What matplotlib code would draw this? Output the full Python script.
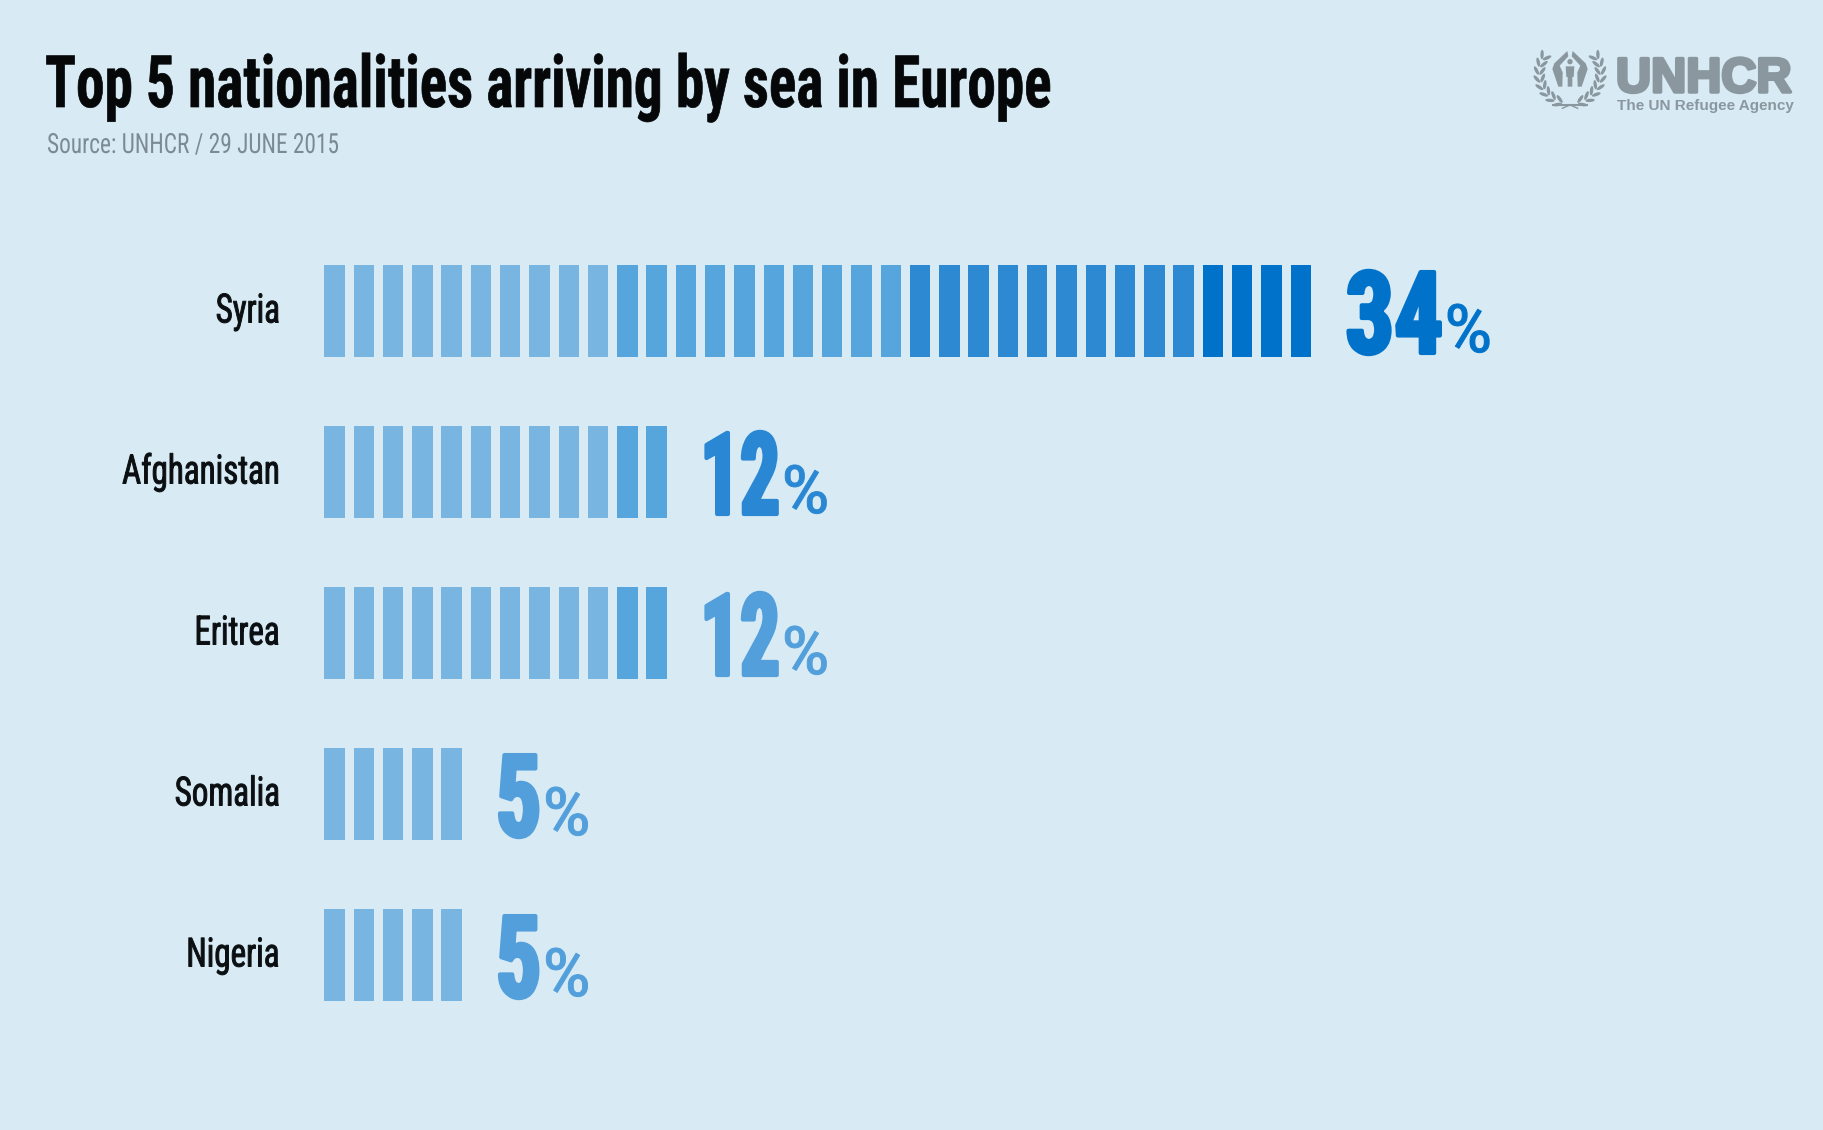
import numpy as np
import matplotlib
matplotlib.use('Agg')
import matplotlib.pyplot as plt
import matplotlib.patheffects as pe
from matplotlib.patches import Circle, Ellipse, Polygon
from matplotlib.transforms import Affine2D

countries = ['Syria', 'Afghanistan', 'Eritrea', 'Somalia', 'Nigeria']
shares = [34, 12, 12, 5, 5]
tier_colors = ['#79B5E1', '#56A5DC', '#2E89D3', '#0072CA']
label_colors = ['#0072CA', '#2A87D3', '#529FDB', '#529FDB', '#529FDB']
number_squeeze = [0.85, 0.69, 0.69, 0.79, 0.79]

title = 'Top 5 nationalities arriving by sea in Europe'
source = 'Source: UNHCR / 29 JUNE 2015'

BG = '#D8EBF4'
NARROW = ['Roboto Condensed', 'Roboto', 'DejaVu Sans']
HELV = ['Liberation Sans', 'DejaVu Sans']
GREY = '#8A979F'
W, H = 1824, 1130
PITCH = 29.28
BAR_LEFT = 324.3
ROW_STEP = 161.0
ROW_TOP = 311.0

px = 0.72  # pixels to points at dpi 100


class Squeeze(pe.AbstractPathEffect):
    # the installed fonts are wider than the original, so narrow the glyphs when drawn
    def __init__(self, sx, anchor='left', stroke=0):
        self.sx = sx
        self.anchor = anchor
        self.stroke = stroke

    def draw_path(self, renderer, gc, tpath, affine, rgbFace=None):
        a = tpath.get_extents().x1 if self.anchor == 'right' else 0
        t = Affine2D().translate(-a, 0).scale(self.sx, 1).translate(a, 0) + affine
        gc0 = renderer.new_gc()
        gc0.copy_properties(gc)
        if self.stroke:
            gc0.set_foreground(rgbFace)
            gc0.set_linewidth(self.stroke)
        renderer.draw_path(gc0, tpath, t, rgbFace)
        gc0.restore()


fig = plt.figure(figsize=(W / 100, H / 100), dpi=100, facecolor=BG)
ax = fig.add_axes([BAR_LEFT / W, 0, 1 - BAR_LEFT / W, 1])
ax.set_facecolor('none')
ax.set_xlim(0, (W - BAR_LEFT) / PITCH)
ax.set_ylim((H - ROW_TOP) / ROW_STEP, -ROW_TOP / ROW_STEP)
for s in ax.spines.values():
    s.set_visible(False)
ax.xaxis.set_visible(False)
renderer = fig.canvas.get_renderer()

# one bar per percentage point, colour changes every ten
for row, value in enumerate(shares):
    units = np.arange(value)
    colors = [tier_colors[u // 10] for u in units]
    ax.bar(units, 92 / ROW_STEP, width=0.697, bottom=row - 46 / ROW_STEP,
           align='edge', color=colors, linewidth=0)

    sx = number_squeeze[row]
    num = ax.annotate(str(value), xy=(value - 0.303, row), xytext=(35 * px, -42 * px),
                      textcoords='offset points', ha='left', va='baseline',
                      fontsize=82, fontweight='bold', family=NARROW,
                      color=label_colors[row])
    # keep the drawn glyphs at the bar gap, the unsqueezed box reaches back to the left
    w = num.get_window_extent(renderer).width
    num.xyann = ((35 - (1 - sx) * w) * px, -42 * px)
    num.set_path_effects([Squeeze(sx, anchor='right', stroke=3)])
    pct = ax.annotate('%', xy=(1, row), xycoords=(num, 'data'), xytext=(0, -41 * px),
                      textcoords='offset points', ha='left', va='baseline',
                      fontsize=48, family=NARROW, color=label_colors[row])
    pct.set_path_effects([Squeeze(1.15, stroke=0.7)])

ax.set_yticks(range(len(countries)), labels=countries)
ax.tick_params(axis='y', length=0, pad=44 * px)
for lab in ax.get_yticklabels():
    lab.set_fontsize(29)
    lab.set_family(NARROW)
    lab.set_color('#0B0F12')
    lab.set_verticalalignment('center')
    lab.set_path_effects([Squeeze(0.82, anchor='right', stroke=0.7)])

title_txt = fig.text(45 / W, 1 - 107 / H, title, fontsize=52, fontweight='bold', family=NARROW,
                     color='#050708', va='baseline')
title_txt.set_path_effects([Squeeze(0.792, stroke=0.5)])
source_txt = fig.text(47 / W, 1 - 153 / H, source, fontsize=20, family=NARROW,
                      color='#7C8A93', va='baseline')
source_txt.set_path_effects([Squeeze(0.84)])

# logo
wm = fig.text(1616 / W, 1 - 92 / H, 'UNHCR', fontsize=35, fontweight='bold',
              family=HELV, color=GREY, va='baseline')
wm.set_path_effects([pe.withStroke(linewidth=2.5, foreground=GREY)])
fig.text(1617 / W, 1 - 110 / H, 'The UN Refugee Agency', fontsize=11, fontweight='bold',
         family=HELV, color=GREY, va='baseline')

emblem = fig.add_axes([1525 / W, 1 - 117 / H, 90 / W, 72 / H])
emblem.set_xlim(0, 270)
emblem.set_ylim(216, 0)
emblem.axis('off')
for sign in (-1, 1):
    mx = lambda x: 135 + sign * (x - 135)
    arm = [(127, 18), (88, 55), (82, 72), (100, 125), (112, 125), (113, 82), (104, 62), (130, 34)]
    emblem.add_patch(Polygon([(mx(x), y) for x, y in arm], color=GREY, lw=0))
    for a in np.radians(np.linspace(34, -68, 8)):
        pos = (135 + sign * 92 * np.cos(a), 85 - 92 * np.sin(a))
        tangent = np.degrees(np.arctan2(-np.cos(a), -sign * np.sin(a)))
        for dr, tilt in ((9, 32), (-9, -32)):
            c = (pos[0] + sign * dr * np.cos(a), pos[1] - dr * np.sin(a))
            emblem.add_patch(Ellipse(c, 28, 10, angle=tangent + sign * tilt, color=GREY, lw=0))
    emblem.plot([mx(135), mx(85)], [180, 180], color=GREY, lw=1.5)
    emblem.plot([mx(132), mx(112)], [181, 190], color=GREY, lw=1)
emblem.add_patch(Circle((135, 50), 8, color=GREY, lw=0))
emblem.add_patch(Polygon([(122, 64), (148, 64), (146, 96), (142, 96), (142, 125), (128, 125),
                          (128, 96), (124, 96)], color=GREY, lw=0))

fig.savefig('out.png', dpi=100, facecolor=BG)
